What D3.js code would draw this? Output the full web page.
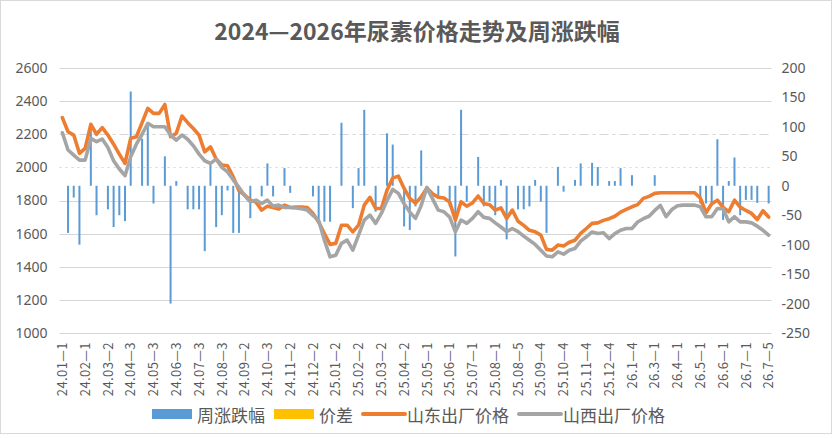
<!DOCTYPE html>
<html><head><meta charset="utf-8">
<script src="https://cdn.jsdelivr.net/npm/d3@7"></script>
<style>
body{margin:0;background:#fff}
svg{display:block}
text{font-family:"Noto Sans CJK SC","Noto Sans",sans-serif;fill:#595959}
</style>
</head><body>
<svg id="c" width="834" height="438"></svg>
<script>
const titleText = "2024—2026年尿素价格走势及周涨跌幅";
const tickLabels = ["24.01—1","24.02—1","24.03—2","24.04—3","24.05—3","24.06—3","24.07—3","24.08—3","24.09—2","24.10—3","24.11—2","24.12—2","25.01—2","25.02—2","25.03—2","25.04—2","25.05—1","25.06—1","25.07—1","25.08—1","25.08—5","25.09—4","25.10—4","25.11—4","25.12—4","26.1—4","26.3—1","26.4—1","26.5—1","26.6—1","26.7—1","26.7—5"];
const seriesNames = ["周涨跌幅","价差","山东出厂价格","山西出厂价格"];
const leftTicks = [1000,1200,1400,1600,1800,2000,2200,2400,2600];
const rightTicks = [-250,-200,-150,-100,-50,0,50,100,150,200];

const shandong = [2300,2215,2195,2085,2115,2260,2200,2240,2195,2140,2080,2024,2175,2185,2270,2356,2326,2326,2380,2185,
2205,2310,2270,2235,2195,2094,2124,2050,2014,2010,1943,1860,1833,1802,1790,1742,1766,1758,1748,1772,
1758,1760,1760,1758,1722,1670,1601,1535,1541,1651,1651,1611,1651,1772,1819,1752,1752,1862,1935,1947,
1873,1813,1784,1822,1875,1840,1820,1815,1790,1682,1792,1766,1785,1827,1782,1775,1742,1755,1692,1742,
1675,1650,1620,1611,1591,1505,1500,1531,1525,1548,1560,1601,1631,1662,1665,1680,1690,1705,1730,1746,
1762,1775,1813,1825,1843,1847,1847,1847,1847,1847,1847,1847,1815,1726,1780,1802,1758,1732,1802,1760,
1740,1722,1685,1738,1700];

const shanxi = [2209,2105,2074,2044,2044,2175,2155,2171,2120,2040,1990,1950,2064,2140,2200,2266,2245,2245,2245,2195,
2165,2195,2170,2130,2080,2040,2024,2050,2000,1973,1925,1880,1830,1792,1802,1782,1802,1766,1772,1758,
1758,1755,1750,1742,1710,1680,1561,1460,1470,1541,1561,1500,1591,1682,1712,1662,1722,1800,1867,1843,
1780,1730,1692,1770,1879,1810,1742,1732,1700,1611,1682,1662,1692,1732,1698,1692,1665,1640,1612,1631,
1612,1585,1560,1535,1500,1465,1460,1490,1476,1500,1510,1555,1581,1610,1601,1605,1570,1600,1620,1631,
1631,1670,1690,1705,1740,1770,1702,1745,1768,1772,1772,1772,1762,1702,1702,1752,1750,1671,1702,1671,
1671,1665,1645,1620,1591];

const weeklyChange = [0,-80,-20,-100,0,105,-50,0,-40,-70,-50,-60,160,0,80,105,-30,0,50,-200,
8,0,-40,-40,-40,-111,38,-70,-50,-8,-80,-80,0,-55,0,-18,38,-18,0,30,
-12,0,0,0,-18,-61,-61,-61,0,107,0,-38,30,129,0,-44,0,89,70,0,
-69,-75,-35,60,0,0,-18,0,-35,-120,129,-27,0,49,-35,-27,-50,10,-91,0,
-40,-40,-35,10,-27,-80,0,32,-10,0,10,38,0,39,32,0,8,8,30,0,
18,0,0,0,18,0,0,0,0,0,0,0,-30,-30,-34,79,-58,8,48,-50,
-24,-24,-29,0,-30];

const colors = {bar:"#5B9BD5", spread:"#FFC000", sd:"#ED7D31", sx:"#A5A5A5", grid:"#d9d9d9", text:"#595959"};

const svg = d3.select("#c");
const n = shandong.length;
const idx = d3.range(n);
const x = d3.scaleBand().domain(idx).range([59.5, 771.5]).padding(0);
const cx = i => x(i) + x.bandwidth()/2;
const yL = d3.scaleLinear().domain([1000,2600]).range([333,68]);
const yR = d3.scaleLinear().domain([-250,200]).range([333,68]);

// border
svg.append("rect").attr("x",0.5).attr("y",0.5).attr("width",831).attr("height",433)
  .attr("fill","#fff").attr("stroke","#d9d9d9").attr("stroke-width",1);

// title
svg.append("text").attr("x",417).attr("y",40).attr("text-anchor","middle")
  .style("font-size","23px").style("font-weight","bold").text(titleText);

// gridlines
svg.append("g").selectAll("line").data(leftTicks).join("line")
  .attr("x1",59.5).attr("x2",771.5)
  .attr("y1",d=>Math.round(yL(d))+0.5).attr("y2",d=>Math.round(yL(d))+0.5)
  .attr("stroke","#d6d6d6").attr("stroke-width",1.2)
  .attr("stroke-dasharray",d=> d===2200 ? "9,4,3,4" : (d===2000 ? "2,4" : null));

// bars
svg.append("g").selectAll("rect").data(idx.filter(i=>weeklyChange[i]!==0)).join("rect")
  .attr("x",i=>cx(i)-1).attr("width",2)
  .attr("y",i=>Math.min(yR(weeklyChange[i]),yR(0)))
  .attr("height",i=>Math.abs(yR(weeklyChange[i])-yR(0)))
  .attr("fill",colors.bar);

// lines
const lineL = arr => d3.line().x((d,i)=>cx(i)).y(d=>yL(d))(arr);
svg.append("path").attr("d",lineL(shandong)).attr("fill","none")
  .attr("stroke",colors.sd).attr("stroke-width",3.6).attr("stroke-linejoin","round").attr("stroke-linecap","round");
svg.append("path").attr("d",lineL(shanxi)).attr("fill","none")
  .attr("stroke",colors.sx).attr("stroke-width",3.6).attr("stroke-linejoin","round").attr("stroke-linecap","round");

// left axis
const gl = svg.append("g").attr("transform","translate(59.5,0)")
  .call(d3.axisLeft(yL).tickValues(leftTicks).tickSize(0).tickPadding(12).tickFormat(d=>String(d)));
gl.select(".domain").remove();
gl.selectAll("text").style("font-size","14px").style("font-family","\"Noto Sans\",sans-serif").attr("fill",colors.text);

// right axis
const gr = svg.append("g").attr("transform","translate(771.5,0)")
  .call(d3.axisRight(yR).tickValues(rightTicks).tickSize(0).tickPadding(10).tickFormat(d=>String(d)));
gr.select(".domain").remove();
gr.selectAll("text").style("font-size","14px").style("font-family","\"Noto Sans\",sans-serif").attr("fill",colors.text);

// x axis
const gx = svg.append("g").attr("transform","translate(0,333)")
  .call(d3.axisBottom(x).tickValues(d3.range(0,n,4)).tickSize(0).tickFormat(d=>tickLabels[d/4]));
gx.select(".domain").remove();
gx.selectAll("text").attr("transform","rotate(-90)").attr("x",-9).attr("y",0).attr("dy","0.36em")
  .style("text-anchor","end").style("font-size","13px").style("letter-spacing","0.4px").attr("fill",colors.text);

// legend
const lg = svg.append("g");
let lx = 152; const ly = 414;
seriesNames.forEach((name,k)=>{
  if(k<2){
    lg.append("rect").attr("x",lx).attr("y",ly-5).attr("width",40).attr("height",10)
      .attr("fill", k===0?colors.bar:colors.spread);
  } else {
    lg.append("line").attr("x1",lx+1).attr("x2",lx+43).attr("y1",ly).attr("y2",ly)
      .attr("stroke", k===2?colors.sd:colors.sx).attr("stroke-width",4).attr("stroke-linecap","round");
  }
  const t = lg.append("text").attr("x",lx+45).attr("y",ly).attr("dominant-baseline","central")
    .style("font-size","17px").text(name);
  lx = lx + 45 + t.node().getComputedTextLength() + 9;
});
</script>
</body></html>
